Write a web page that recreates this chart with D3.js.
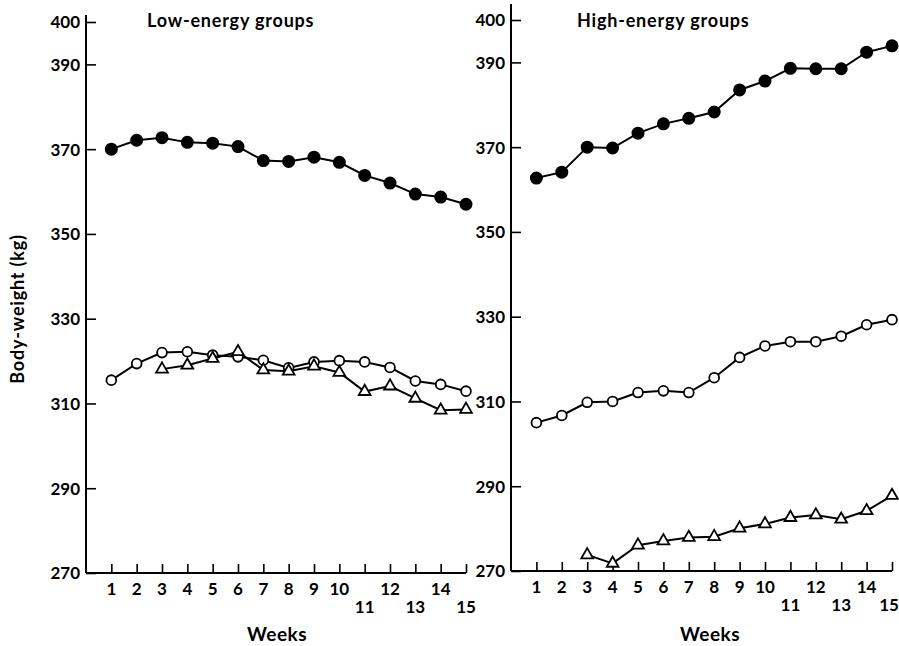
<!DOCTYPE html>
<html>
<head>
<meta charset="utf-8">
<script src="https://cdn.jsdelivr.net/npm/d3@7"></script>
<style>
  html, body { margin: 0; padding: 0; background: #fff; }
  svg { display: block; }
  text { font-family: Lato, "Open Sans", sans-serif; fill: #000; }
</style>
</head>
<body>
<svg id="chart" width="899" height="646"></svg>
<script>
// ---- data ----
const weeks = [1,2,3,4,5,6,7,8,9,10,11,12,13,14,15];
const yTicks = [270,290,310,330,350,370,390,400];
const panelTitles = ["Low-energy groups", "High-energy groups"];
const xTitle = "Weeks";
const yTitle = "Body-weight (kg)";

// Low-energy groups
const lowFilled = [370.0,372.1,372.7,371.6,371.4,370.6,367.3,367.1,368.1,366.9,363.8,362.0,359.4,358.7,357.0];
const lowOpen   = [315.5,319.4,322.0,322.2,321.4,321.0,320.2,318.4,319.8,320.1,319.8,318.5,315.3,314.5,312.9];
const lowTriWeeks = [3,4,5,6,7,8,9,10,11,12,13,14,15];
const lowTri    = [318.1,319.0,320.6,322.2,317.9,317.6,318.8,317.3,312.8,314.1,311.2,308.4,308.6];

// High-energy groups
const highFilled = [362.7,364.1,370.0,369.8,373.3,375.5,376.8,378.3,383.5,385.6,388.6,388.5,388.5,392.4,393.9];
const highOpen   = [305.0,306.7,309.8,310.0,312.1,312.5,312.1,315.6,320.4,323.1,324.1,324.1,325.4,328.1,329.3];
const highTriWeeks = [3,4,5,6,7,8,9,10,11,12,13,14,15];
const highTri    = [273.8,271.8,276.1,277.1,277.9,278.1,280.1,281.1,282.6,283.2,282.2,284.2,287.8];

const lowerRowWeeks = [11,13,15];

// ---- layout ----
const svg = d3.select("#chart");

const panels = [
  { title: panelTitles[0], x0: 86, x15: 466, yBot: 573, yTop: 22, axisTop: 15, titleX: 147,
    series: [
      { w: weeks, v: lowFilled, m: "filled" },
      { w: weeks, v: lowOpen, m: "open" },
      { w: lowTriWeeks, v: lowTri, m: "tri" }
    ], xTitleX: 277 },
  { title: panelTitles[1], x0: 511, x15: 892, yBot: 571, yTop: 20, axisTop: 4, titleX: 577,
    series: [
      { w: weeks, v: highFilled, m: "filled" },
      { w: weeks, v: highOpen, m: "open" },
      { w: highTriWeeks, v: highTri, m: "tri" }
    ], xTitleX: 710 }
];

panels.forEach(p => {
  const x = d3.scaleLinear().domain([0, 15]).range([p.x0, p.x15]);
  const y = d3.scaleLinear().domain([270, 400]).range([p.yBot, p.yTop]);
  const g = svg.append("g");

  // y axis
  const yAxis = d3.axisLeft(y).tickValues(yTicks).tickSize(-10).tickSizeOuter(0).tickPadding(6).tickFormat(d3.format("d"));
  const ya = g.append("g").attr("transform", `translate(${p.x0},0)`).call(yAxis);
  ya.select(".domain").remove();
  ya.selectAll(".tick line").attr("stroke", "#000").attr("stroke-width", 1.6);
  ya.selectAll(".tick text").attr("font-size", 17).attr("font-weight", 700).attr("dy", "0.35em");
  g.append("line").attr("x1", p.x0).attr("x2", p.x0).attr("y1", p.axisTop).attr("y2", p.yBot)
    .attr("stroke", "#000").attr("stroke-width", 2);

  // x axis
  const xAxis = d3.axisBottom(x).tickValues(weeks).tickSize(-9).tickSizeOuter(0).tickFormat("");
  const xa = g.append("g").attr("transform", `translate(0,${p.yBot})`).call(xAxis);
  xa.select(".domain").remove();
  xa.selectAll(".tick line").attr("stroke", "#000").attr("stroke-width", 1.6);
  g.append("line").attr("x1", p.x0).attr("x2", x(15)).attr("y1", p.yBot).attr("y2", p.yBot)
    .attr("stroke", "#000").attr("stroke-width", 2);

  g.selectAll(".wk").data(weeks).enter().append("text")
    .attr("x", d => Math.min(x(d), 889))
    .attr("y", d => lowerRowWeeks.includes(d) ? p.yBot + 40 : p.yBot + 22)
    .attr("text-anchor", "middle").attr("font-size", 17).attr("font-weight", 700)
    .text(d => d);

  g.append("text").attr("x", p.xTitleX).attr("y", 641).attr("text-anchor", "middle")
    .attr("font-size", 19).attr("font-weight", 700).attr("letter-spacing", 0.5).text(xTitle);

  g.append("text").attr("x", p.titleX).attr("y", 27).attr("font-size", 18).attr("font-weight", 700)
    .attr("letter-spacing", 0.8).text(p.title);

  // series
  const line = d3.line().x(d => x(d[0])).y(d => y(d[1]));
  p.series.forEach(s => {
    const pts = s.w.map((w, i) => [w, s.v[i]]);
    g.append("path").datum(pts).attr("d", line).attr("fill", "none")
      .attr("stroke", "#000").attr("stroke-width", 2);
    if (s.m === "tri") {
      const sym = d3.symbol().type(d3.symbolTriangle).size(60);
      g.selectAll(null).data(pts).enter().append("path")
        .attr("d", sym)
        .attr("transform", d => `translate(${x(d[0])},${y(d[1])})`)
        .attr("fill", "#fff").attr("stroke", "#000").attr("stroke-width", 1.8);
    } else {
      g.selectAll(null).data(pts).enter().append("circle")
        .attr("cx", d => x(d[0])).attr("cy", d => y(d[1]))
        .attr("r", s.m === "filled" ? 5.6 : 4.9)
        .attr("fill", s.m === "filled" ? "#000" : "#fff")
        .attr("stroke", "#000").attr("stroke-width", 1.8);
    }
  });
});

// y title
svg.append("text").attr("transform", "translate(24,309) rotate(-90)")
  .attr("text-anchor", "middle").attr("font-size", 18).attr("font-weight", 700)
  .attr("letter-spacing", 0.8).text(yTitle);
</script>
</body>
</html>
